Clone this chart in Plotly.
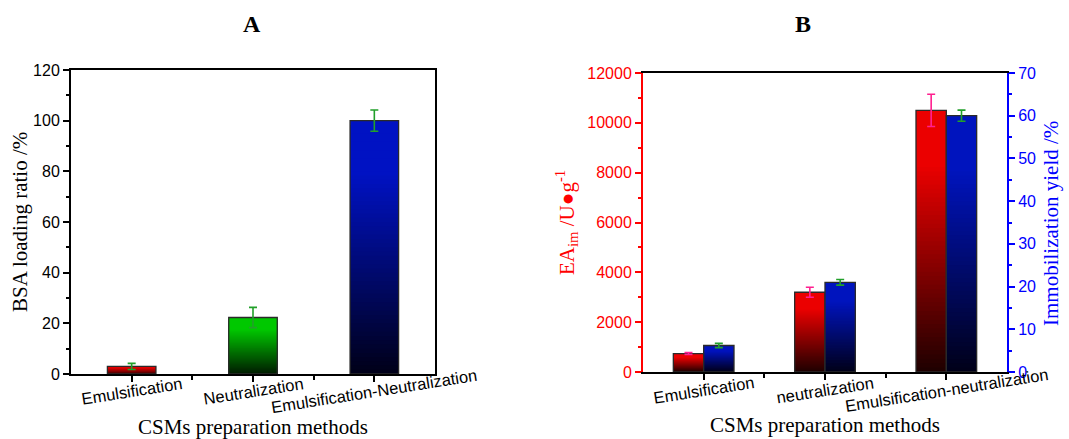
import plotly.graph_objects as go

# ---------------- data ----------------
categories_a = ["Emulsification", "Neutralization", "Emulsification-Neutralization"]
bsa_loading = [3.0, 22.3, 100.0]
bsa_err = [1.2, 4.0, 4.2]

categories_b = ["Emulsification", "neutralization", "Emulsification-neutralization"]
ea_im = [740, 3200, 10500]
ea_err = [40, 200, 650]
imm_yield = [6.2, 21.0, 60.0]
imm_err = [0.5, 0.65, 1.3]

W, H = 1069, 439
SERIF = "Liberation Serif, Times New Roman, serif"
SANS = "Liberation Sans, Arial, sans-serif"

# gradient colours (top, bottom) per bar
tops_a = [(225, 0, 0), (0, 200, 0), (0, 18, 195)]
bottoms_a = [(70, 0, 0), (0, 25, 0), (0, 0, 22)]
red_top, red_bottom = (235, 0, 0), (28, 0, 0)
blue_top, blue_bottom = (0, 20, 190), (0, 0, 22)

N = 60


def mix(top, bottom, t, knee=0.8):
    f = min(1.0, t / knee)
    return "rgb(%d,%d,%d)" % tuple(round(b + (a - b) * f) for a, b in zip(top, bottom))


def gradient_bars(fig, xs, values, tops, bottoms, width, offset, xa, ya):
    for k in range(N):
        t = 1 - k / N
        cols = [mix(tp, bt, t) for tp, bt in zip(tops, bottoms)]
        fig.add_trace(go.Bar(
            x=xs, y=[v * t for v in values], width=width, offset=offset,
            marker=dict(color=cols, line=dict(width=0)),
            xaxis=xa, yaxis=ya, hoverinfo="skip", showlegend=False))


def outline(fig, xs, values, err, ecol, width, offset, xa, ya):
    fig.add_trace(go.Bar(
        x=xs, y=values, width=width, offset=offset,
        marker=dict(color="rgba(0,0,0,0)", line=dict(color="#2a2a2a", width=1.3)),
        error_y=dict(type="data", array=err, color=ecol, thickness=1.6, width=4),
        xaxis=xa, yaxis=ya, showlegend=False))


fig = go.Figure()
xa_idx = list(range(len(categories_a)))
xb_idx = list(range(len(categories_b)))

# Panel A
gradient_bars(fig, xa_idx, bsa_loading, tops_a, bottoms_a, 0.4, -0.2, "x", "y")
outline(fig, xa_idx, bsa_loading, bsa_err, "#22a02a", 0.4, -0.2, "x", "y")

# Panel B
gradient_bars(fig, xb_idx, ea_im, [red_top] * 3, [red_bottom] * 3, 0.25, -0.25, "x2", "y2")
outline(fig, xb_idx, ea_im, ea_err, "#ff2090", 0.25, -0.25, "x2", "y2")
gradient_bars(fig, xb_idx, imm_yield, [blue_top] * 3, [blue_bottom] * 3, 0.25, 0.0, "x2", "y3")
outline(fig, xb_idx, imm_yield, imm_err, "#22a02a", 0.25, 0.0, "x2", "y3")

# ---------------- axes ----------------
ax_dom_a = [71 / W, 435 / W]
ay_dom_a = [1 - 374 / H, 1 - 70 / H]
bx_dom = [643 / W, 1007 / W]
by_dom = [1 - 372 / H, 1 - 73 / H]

common_x = dict(range=[-0.5, 2.5], showline=True, linecolor="black", linewidth=2,
                mirror=True, ticks="outside", tickvals=[0, 1, 2], ticklen=6,
                tickwidth=2, tickcolor="black",
                minor=dict(tickvals=[0.5, 1.5], ticks="outside", ticklen=4,
                           tickwidth=1.5, tickcolor="black"),
                showticklabels=False, showgrid=False, zeroline=False,
                automargin=False)


def yax(rng, dtick, mdtick, color, **kw):
    d = dict(range=rng, dtick=dtick, showline=True, linecolor=color, linewidth=2,
             ticks="outside", ticklen=6, tickwidth=2, tickcolor=color,
             minor=dict(dtick=mdtick, ticks="outside", ticklen=3, tickwidth=1.5,
                        tickcolor=color),
             tickfont=dict(family=SANS, size=16, color=color),
             tickformat="d", showgrid=False, zeroline=False, automargin=False)
    d.update(kw)
    return d


annotations = []


def ann(text, x, y, size, color="black", angle=0, family=SERIF, bold=False):
    annotations.append(dict(text=("<b>%s</b>" % text) if bold else text, x=x, y=y,
                            xref="paper", yref="paper", showarrow=False,
                            xanchor="center", yanchor="middle", textangle=angle,
                            font=dict(family=family, size=size, color=color)))


ann("A", 252 / W, 1 - 24 / H, 24, bold=True)
ann("B", 803 / W, 1 - 24 / H, 24, bold=True)
ann("BSA loading ratio /%", 20 / W, 1 - 222 / H, 21, angle=-90)
ann("CSMs preparation methods", 253 / W, 1 - 427 / H, 21)
ann("CSMs preparation methods", 825 / W, 1 - 425 / H, 21)
ann("EA<sub>im</sub> /U●g<sup>-1</sup>", 566 / W, 1 - 223 / H, 21, color="#ff0000", angle=-90)
ann("Immobilization yield /%", 1051 / W, 1 - 224 / H, 21, color="#0000ff", angle=-90)
for i, c in enumerate(categories_a):
    annotations.append(dict(text=c, x=i, y=1 - 391 / H, xref="x", yref="paper",
                            showarrow=False, xanchor="center", yanchor="middle",
                            textangle=-9, font=dict(family=SANS, size=16.5, color="black")))
for i, c in enumerate(categories_b):
    annotations.append(dict(text=c, x=i, y=1 - 390 / H, xref="x2", yref="paper",
                            showarrow=False, xanchor="center", yanchor="middle",
                            textangle=-9, font=dict(family=SANS, size=16.5, color="black")))

fig.update_layout(
    width=W, height=H, margin=dict(l=0, r=0, t=0, b=0, pad=0, autoexpand=False),
    paper_bgcolor="white", plot_bgcolor="white", barmode="overlay",
    showlegend=False,
    xaxis=dict(domain=ax_dom_a, anchor="y", **common_x),
    yaxis=yax([0, 120], 20, 10, "black", domain=ay_dom_a, anchor="x", mirror=True),
    xaxis2=dict(domain=bx_dom, anchor="y2", **common_x),
    yaxis2=yax([0, 12000], 2000, 1000, "#ff0000", domain=by_dom, anchor="x2"),
    yaxis3=yax([0, 70], 10, 5, "#0000ff", overlaying="y2", side="right", anchor="x2"),
    annotations=annotations,
)

fig.write_html("out.html", config={"displayModeBar": False},
               post_script="document.body.style.margin='0';")
